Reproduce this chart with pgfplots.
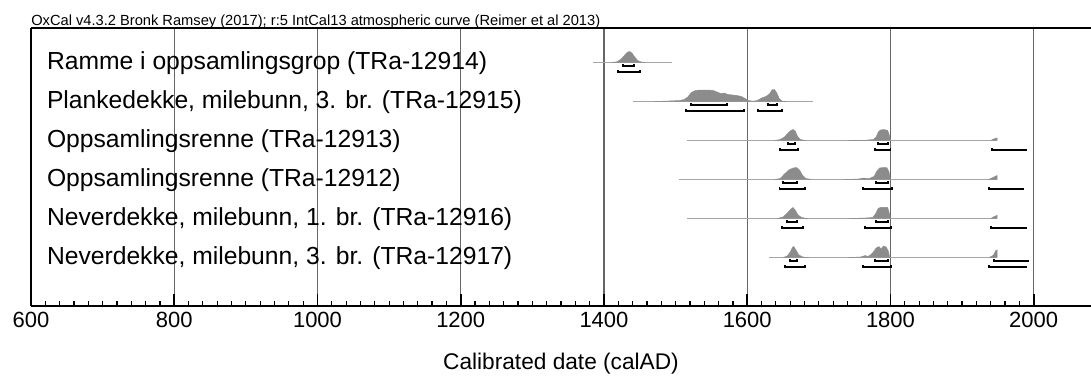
\documentclass[border=0pt]{standalone}
\usepackage{fontspec}
\setmainfont{Liberation Sans}
\usepackage{pgfplots}
\pgfplotsset{compat=1.18}
\tikzset{
  base/.style={draw=black!35, line width=0.7pt},
  dist/.style={fill=black!45, draw=black!45, line width=0.3pt},
  br/.style={draw=black, line width=1.4pt},
  lab/.style={anchor=base west, inner sep=0pt, font=\fontsize{18.5}{20}\selectfont},
}
\begin{document}
\begin{tikzpicture}
\useasboundingbox (-23.25pt,-57.75pt) rectangle (795pt,229.5pt);
\begin{axis}[
  at={(0pt,0pt)}, anchor=south west, scale only axis,
  width=795pt, height=208.5pt,
  xmin=600, xmax=2080, ymin=28, ymax=306, y dir=reverse,
  axis x line*=box, axis y line*=left,
  axis line style={-, line width=1.9pt, black},
  xtick={600,800,...,2000}, minor x tick num=9,
  xtick pos=left, ytick=\empty,
  tick align=inside, major tick length=9pt, minor tick length=3.5pt,
  major tick style={black, line width=1.2pt},
  minor tick style={black, line width=0.9pt},
  xmajorgrids, major grid style={black!60, line width=0.9pt},
  /pgf/number format/assume math mode=true,
  /pgf/number format/1000 sep={},
  xticklabel style={font=\fontsize{16.5}{18}\selectfont, yshift=-1.2pt},
  xlabel={Calibrated date (calAD)},
  xlabel style={at={(axis description cs:0.5,0)}, anchor=north, inner sep=0pt, yshift=-35pt, font=\fontsize{17}{20}\selectfont},
]
% ---------- Row 1 (b=62.5)
\addplot[base] coordinates {(1385,62.5) (1495,62.5)};
\addplot[dist] coordinates {(1410,62.5)(1418,61.8)(1424,59)(1429,55)(1433,52)(1436,51.5)(1439,53)(1443,57)(1447,60.5)(1452,62)(1458,62.5)};
\addplot[br] coordinates {(1427,63.8)(1427,66)(1442,66)(1442,63.8)};
\addplot[br] coordinates {(1420,69.8)(1420,72)(1450,72)(1450,69.8)};
% ---------- Row 2 (b=101.5)
\addplot[base] coordinates {(1441,101.5) (1692,101.5)};
\addplot[dist] coordinates {(1470,101.5)(1490,101)(1505,100.5)(1512,99.5)(1517,97)(1522,92.5)(1528,90.3)(1540,90)(1552,90.3)(1558,92)(1563,93.5)(1568,93)(1573,94.5)(1580,95)(1586,95.5)(1592,96.5)(1597,98.5)(1602,100.5)(1608,101.2)(1614,100.5)(1620,98)(1626,96.5)(1631,94)(1635,89.5)(1638,89.5)(1641,92.5)(1645,99)(1649,101.2)(1655,101.5)};
\addplot[br] coordinates {(1522,102.8)(1522,105)(1572,105)(1572,102.8)};
\addplot[br] coordinates {(1629,102.8)(1629,105)(1642,105)(1642,102.8)};
\addplot[br] coordinates {(1515,108.8)(1515,111)(1596,111)(1596,108.8)};
\addplot[br] coordinates {(1615,108.8)(1615,111)(1649,111)(1649,108.8)};
% ---------- Row 3 (b=140.5)
\addplot[base] coordinates {(1516,140.5) (1949,140.5)};
\addplot[dist] coordinates {(1638,140.5)(1646,139.5)(1652,137)(1657,133)(1661,130.5)(1664,129.5)(1667,131)(1670,136)(1674,139.5)(1682,140.5)};
\addplot[dist] coordinates {(1740,140.5)(1765,140.2)(1776,139.5)(1780,137)(1783,132)(1786,130)(1791,129.5)(1796,130.5)(1798,134)(1800,140.5)};
\addplot[dist] coordinates {(1940,140.5)(1944,139)(1949,137.8)(1949,140.5)};
\addplot[br] coordinates {(1657,141.8)(1657,144)(1667,144)(1667,141.8)};
\addplot[br] coordinates {(1783,141.8)(1783,144)(1796,144)(1796,141.8)};
\addplot[br] coordinates {(1646,147.8)(1646,150)(1671,150)(1671,147.8)};
\addplot[br] coordinates {(1779,147.8)(1779,150)(1800,150)(1800,147.8)};
\addplot[br] coordinates {(1942,147.8)(1942,150)(1991,150)};
% ---------- Row 4 (b=179.5)
\addplot[base] coordinates {(1505,179.5) (1949,179.5)};
\addplot[dist] coordinates {(1638,179.5)(1646,178.5)(1652,174)(1658,170)(1664,168)(1669,167.5)(1673,170)(1677,175)(1682,178.5)(1690,179.5)};
\addplot[dist] coordinates {(1735,179.5)(1755,179)(1762,178)(1770,178.6)(1777,176.5)(1781,171)(1785,167.8)(1795,167.5)(1798,172)(1800,179.5)};
\addplot[dist] coordinates {(1937,179.5)(1942,177.8)(1947,176)(1949,175.5)(1949,179.5)};
\addplot[br] coordinates {(1650,180.8)(1650,183)(1670,183)(1670,180.8)};
\addplot[br] coordinates {(1780,180.8)(1780,183)(1797,183)(1797,180.8)};
\addplot[br] coordinates {(1645,186.8)(1645,189)(1681,189)(1681,186.8)};
\addplot[br] coordinates {(1762,186.8)(1762,189)(1802,189)(1802,186.8)};
\addplot[br] coordinates {(1937,186.8)(1937,189)(1987,189)};
% ---------- Row 5 (b=218.5)
\addplot[base] coordinates {(1516,218.5) (1949,218.5)};
\addplot[dist] coordinates {(1642,218.5)(1650,217)(1656,213)(1661,209)(1664,207.5)(1667,210)(1671,215)(1676,217.5)(1684,218.5)};
\addplot[dist] coordinates {(1742,218.5)(1765,218)(1775,217.5)(1779,214)(1783,208.2)(1787,207.3)(1796,207.3)(1798,212)(1800,218.5)};
\addplot[dist] coordinates {(1940,218.5)(1944,216.8)(1949,215.3)(1949,218.5)};
\addplot[br] coordinates {(1656,219.8)(1656,222)(1670,222)(1670,219.8)};
\addplot[br] coordinates {(1780,219.8)(1780,222)(1797,222)(1797,219.8)};
\addplot[br] coordinates {(1648,225.8)(1648,228)(1678,228)(1678,225.8)};
\addplot[br] coordinates {(1765,225.8)(1765,228)(1801,228)(1801,225.8)};
\addplot[br] coordinates {(1940,225.8)(1940,228)(1990,228)};
% ---------- Row 6 (b=257.5)
\addplot[base] coordinates {(1631,257.5) (1949,257.5)};
\addplot[dist] coordinates {(1650,257.5)(1656,256)(1660,252)(1663,247.5)(1665,246.5)(1668,250)(1672,255)(1678,257)(1686,257.5)};
\addplot[dist] coordinates {(1742,257.5)(1758,257)(1765,255.5)(1768,256.5)(1772,255)(1776,252)(1780,248)(1784,246.5)(1787,249)(1790,246)(1794,247)(1797,251)(1799,257.5)};
\addplot[dist] coordinates {(1938,257.5)(1944,255)(1947,250.5)(1949,249.8)(1949,257.5)};
\addplot[br] coordinates {(1660,258.8)(1660,261)(1670,261)(1670,258.8)};
\addplot[br] coordinates {(1779,258.8)(1779,261)(1797,261)(1797,258.8)};
\addplot[br] coordinates {(1944,258.8)(1944,261)(1993,261)};
\addplot[br] coordinates {(1653,264.8)(1653,267)(1681,267)(1681,264.8)};
\addplot[br] coordinates {(1762,264.8)(1762,267)(1801,267)(1801,264.8)};
\addplot[br] coordinates {(1937,264.8)(1937,267)(1991,267)};
% ---------- labels
\node[lab] at (axis cs:622,69.5)  {Ramme i oppsamlingsgrop (TRa-12914)};
\node[lab] at (axis cs:622,108.5) {Plankedekke, milebunn, 3. br. (TRa-12915)};
\node[lab] at (axis cs:622,147.5) {Oppsamlingsrenne (TRa-12913)};
\node[lab] at (axis cs:622,186.5) {Oppsamlingsrenne (TRa-12912)};
\node[lab] at (axis cs:622,225.5) {Neverdekke, milebunn, 1. br. (TRa-12916)};
\node[lab] at (axis cs:622,264.5) {Neverdekke, milebunn, 3. br. (TRa-12917)};
\end{axis}
\node[anchor=base west, inner sep=0pt, font=\fontsize{11}{12}\selectfont] at (0pt,210.5pt) {OxCal v4.3.2 Bronk Ramsey (2017); r:5 IntCal13 atmospheric curve (Reimer et al 2013)};
\end{tikzpicture}
\end{document}
